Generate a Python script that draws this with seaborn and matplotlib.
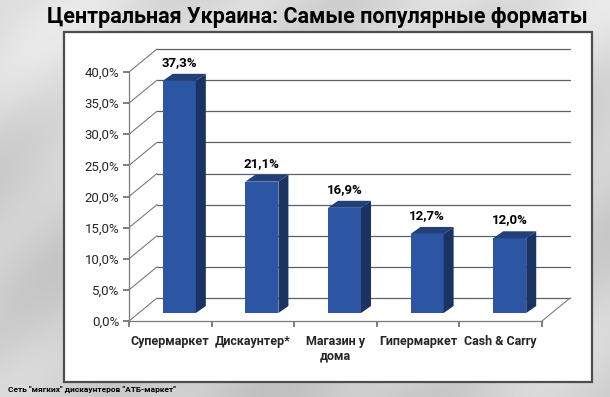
import numpy as np
import pandas as pd
import seaborn as sns
import matplotlib.pyplot as plt
from matplotlib.patches import Rectangle, Polygon
from matplotlib.transforms import offset_copy

# данные с картинки
formats = ['Супермаркет', 'Дискаунтер*', 'Магазин у\nдома', 'Гипермаркет', 'Cash & Carry']
shares = [37.3, 21.1, 16.9, 12.7, 12.0]
y_ticks = [0, 5, 10, 15, 20, 25, 30, 35, 40]

title = 'Центральная Украина: Самые популярные форматы'
footer = 'Сеть "мягких" дискаунтеров "АТБ-маркет"'

df = pd.DataFrame({'format': formats, 'share': shares})

sns.set_theme(style='white')
plt.rcParams['font.family'] = ['Roboto', 'DejaVu Sans']

fig = plt.figure(figsize=(6.1, 3.97), dpi=100)

# серый фон слайда
bg = fig.add_axes([0, 0, 1, 1], zorder=-5)
yy, xx = np.mgrid[0:1:200j, 0:1:300j]
tex = (0.84 + 0.05 * np.sin(11 * (xx + 0.7 * yy)) ** 2
       - 0.06 * yy + 0.03 * np.cos(6 * (xx - yy)))
bg.imshow(tex, cmap='gray', vmin=0, vmax=1, aspect='auto', extent=[0, 1, 0, 1])
bg.add_patch(Rectangle((64 / 610, 1 - 382 / 397), 528 / 610, 350 / 397,
                       transform=bg.transAxes, facecolor='white',
                       edgecolor='#4d4d4d', linewidth=1.6, zorder=3))
bg.set_xlim(0, 1)
bg.set_ylim(0, 1)
bg.set_axis_off()

ax = fig.add_axes([129 / 610, 1 - 321 / 397, 413 / 610, 249 / 397])
ax.patch.set_alpha(0)

front = '#2c56a3'
side = '#1a3363'
top = '#213f78'

sns.barplot(data=df, x='format', y='share', color=front, width=0.4,
            saturation=1, ax=ax, zorder=3)
ax.set_xlim(-0.5, 4.5)
ax.set_ylim(0, 40)

# глубина "3D": стенка и смещение столбиков
wdx, wdy = 28 / 82.6, 23 / 6.225
bdx, bdy = 10 / 82.6, 7 / 6.225
grid_col = '#56626e'

for t in y_ticks:
    ax.plot([-0.5 + wdx, 4.5 + wdx], [t + wdy, t + wdy], color=grid_col,
            lw=0.9, clip_on=False, zorder=1)
    ax.plot([-0.5, -0.5 + wdx], [t, t + wdy], color='#7a7a7a', lw=0.8,
            clip_on=False, zorder=1)
ax.plot([4.5, 4.5 + wdx], [0, wdy], color='#7a7a7a', lw=0.8, clip_on=False, zorder=1)

shift = offset_copy(ax.transData, fig=fig, x=9, y=8, units='dots')
for bar, v in zip(ax.patches, shares):
    bar.set_transform(shift)
    bar.set_edgecolor('none')
    x0 = bar.get_x()
    x1 = x0 + bar.get_width()
    ax.add_patch(Polygon([(x1, 0), (x1 + bdx, bdy), (x1 + bdx, v + bdy), (x1, v)],
                         closed=True, facecolor=side, edgecolor='none',
                         transform=shift, zorder=3, clip_on=False))
    ax.add_patch(Polygon([(x0, v), (x0 + bdx, v + bdy), (x1 + bdx, v + bdy), (x1, v)],
                         closed=True, facecolor=top, edgecolor='none',
                         transform=shift, zorder=3, clip_on=False))
    ax.text(bar.get_x() + bar.get_width() / 2, v + bdy, f'{v:.1f}%'.replace('.', ','),
            transform=offset_copy(ax.transData, fig=fig, x=9, y=13, units='dots'),
            ha='center', va='bottom', fontsize=9.5, fontweight='bold', color='black')

ax.set_yticks(y_ticks)
ax.set_yticklabels([f'{t:.1f}%'.replace('.', ',') for t in y_ticks], fontsize=9.5)
ax.set_xticks(np.arange(len(formats) + 1) - 0.5, minor=False)
ax.set_xticklabels([''] * (len(formats) + 1))
ax.set_xticks(np.arange(len(formats)), minor=True)
ax.set_xticklabels(formats, minor=True, fontsize=9, fontweight='bold',
                   multialignment='center')
ax.tick_params(axis='x', which='minor', length=0, pad=10)
ax.tick_params(axis='both', which='major', length=4, color='#707070', direction='out',
               bottom=True, left=True, pad=3)
ax.set_xlabel('')
ax.set_ylabel('')
for s in ['top', 'right']:
    ax.spines[s].set_visible(False)
for s in ['left', 'bottom']:
    ax.spines[s].set_color('#7a7a7a')
    ax.spines[s].set_linewidth(0.9)

fig.text(47 / 610, 1 - 17 / 397, title, fontsize=15.5, fontweight='bold',
         va='center', ha='left', color='black')
fig.text(8 / 610, 1 - 389 / 397, footer, fontsize=6, fontweight='bold',
         va='center', ha='left', color='black')

fig.savefig('out.png', dpi=100)
